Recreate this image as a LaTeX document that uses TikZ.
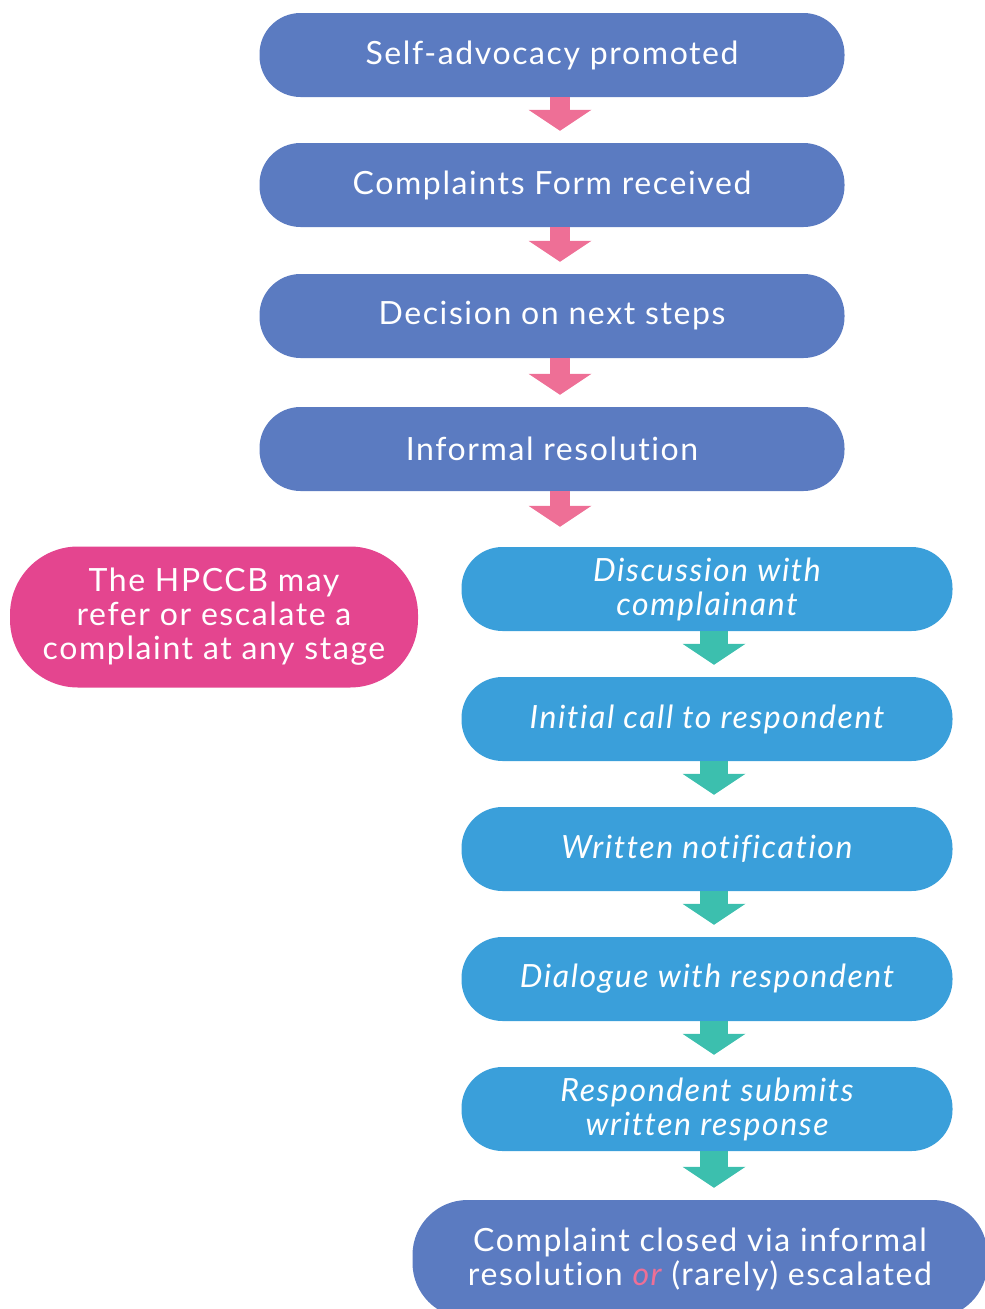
\documentclass[tikz,border=0pt]{standalone}
\usepackage{fontspec}
\setmainfont{Lato}[LetterSpace=5, Ligatures=NoCommon]
\usepackage{tikz}
\usetikzlibrary{arrows.meta}
\usetikzlibrary{positioning}

\definecolor{stepblue}{HTML}{5B7BC1}
\definecolor{subblue}{HTML}{3A9FDA}
\definecolor{notepink}{HTML}{E4458F}
\definecolor{arrpink}{HTML}{EE6F96}
\definecolor{arrteal}{HTML}{3CBFAE}

\begin{document}
\begin{tikzpicture}[x=1pt, y=-1pt,
			every node/.style={text=white, align=center, inner sep=0pt,
							font=\fontsize{32}{34}\selectfont},
			mainbox/.style={fill=stepblue, minimum width=585pt, minimum height=84pt,
							rounded corners=41pt},
			subbox/.style={fill=subblue, minimum width=491pt, minimum height=84pt,
							rounded corners=41pt, font=\fontsize{32}{34}\selectfont\itshape},
			pinkarr/.style={arrpink, line width=20pt, shorten >=12pt,
							-{Triangle[width=62pt, length=21pt]}},
			tealarr/.style={arrteal, line width=28pt, shorten >=12pt,
							-{Triangle[width=62pt, length=21pt]}}]

		\useasboundingbox (0,0) rectangle (985,1309);
		\clip (0,0) rectangle (985,1309);

		% main column
		\node[mainbox] (promo) at (552,55) {Self-advocacy promoted};
		\node[mainbox] (form) at (552,185) {Complaints Form received};
		\node[mainbox] (decide) at (552,316) {Decision on next steps};
		\node[mainbox] (informal) at (552,449) {Informal resolution};

		% informal resolution steps
		\node[subbox] (discuss) at (707,589) {Discussion with\\complainant};
		\node[subbox] (call) at (707,719) {Initial call to respondent};
		\node[subbox] (notify) at (707,849) {Written notification};
		\node[subbox] (dialogue) at (707,979) {Dialogue with respondent};
		\node[subbox] (response) at (707,1109) {Respondent submits\\written response};

		\node[fill=stepblue, minimum width=575pt, minimum height=118pt,
			rounded corners=55pt] (closed) at (700,1259)
			{Complaint closed via informal\\resolution \textcolor{arrpink}{\itshape or} (rarely) escalated};

		\node[fill=notepink, minimum width=408pt, minimum height=141pt,
			rounded corners=68pt] (note) at (214,617)
			{The HPCCB may\\refer or escalate a\\complaint at any stage};

		% arrows
		\draw[pinkarr] ([xshift=8]promo.south) -- ([xshift=8]form.north);
		\draw[pinkarr] ([xshift=8]form.south) -- ([xshift=8]decide.north);
		\draw[pinkarr] ([xshift=8]decide.south) -- ([xshift=8]informal.north);
		\draw[pinkarr, shorten >=20pt] ([xshift=8]informal.south) -- ([xshift=8]informal.south |- discuss.north);

		\draw[tealarr] ([xshift=7]discuss.south) -- ([xshift=7]call.north);
		\draw[tealarr] ([xshift=7]call.south) -- ([xshift=7]notify.north);
		\draw[tealarr] ([xshift=7]notify.south) -- ([xshift=7]dialogue.north);
		\draw[tealarr] ([xshift=7]dialogue.south) -- ([xshift=7]response.north);
		\draw[tealarr] ([xshift=7]response.south) -- ([xshift=7]response.south |- closed.north);
	\end{tikzpicture}
\end{document}
